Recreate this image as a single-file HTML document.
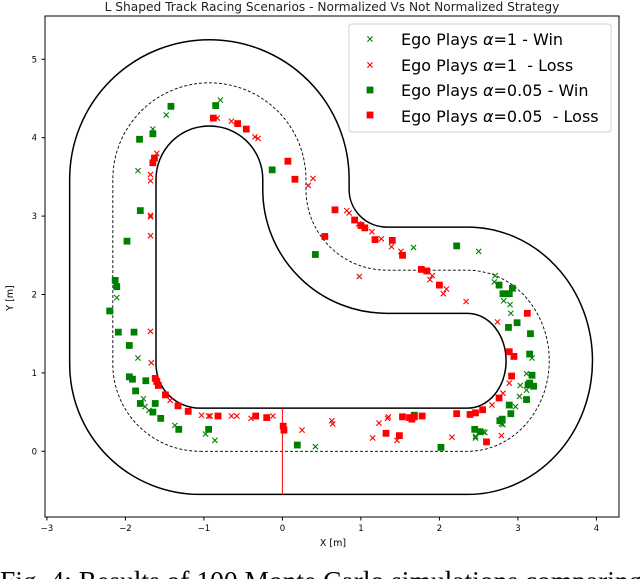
<!DOCTYPE html>
<html><head><meta charset="utf-8"><style>
html,body{margin:0;padding:0;background:#fff;width:640px;height:579px;overflow:hidden;position:relative}
svg{position:absolute;left:0;top:0}
#caption{position:absolute;left:0;top:567px;font-family:"Liberation Serif",serif;font-size:27.5px;line-height:27px;white-space:nowrap;color:#000}
</style></head><body>
<svg id="chart" width="640" height="579" viewBox="0 0 640 579" font-family="DejaVu Sans, Liberation Sans, sans-serif">
<text x="332" y="11" font-size="12.2" text-anchor="middle" fill="#222">L Shaped Track Racing Scenarios - Normalized Vs Not Normalized Strategy</text>
<rect x="45" y="16" width="574" height="501" fill="none" stroke="#000" stroke-width="1"/>
<g id="track"></g>
<g id="marks"></g>
<g id="axes"></g>
<text x="333" y="546" font-size="9.5" text-anchor="middle">X [m]</text>
<text x="13" y="298" font-size="9.5" text-anchor="middle" transform="rotate(-90 13 298)">Y [m]</text>
<g>
<rect x="349" y="24" width="262" height="108" rx="3" fill="#fff" fill-opacity="0.85" stroke="#d0d0d0"/>
<g id="legendMarks"></g>
<text x="401" y="45" font-size="16">Ego Plays <tspan font-style="italic">α</tspan>=1 - Win</text>
<text x="401" y="71" font-size="16" xml:space="preserve">Ego Plays <tspan font-style="italic">α</tspan>=1  - Loss</text>
<text x="401" y="96" font-size="16">Ego Plays <tspan font-style="italic">α</tspan>=0.05 - Win</text>
<text x="401" y="122" font-size="16" xml:space="preserve">Ego Plays <tspan font-style="italic">α</tspan>=0.05  - Loss</text>
</g>
</svg>
<div id="caption">Fig. 4: Results of 100 Monte Carlo simulations comparing</div>
<script>
const xTicks = [-3,-2,-1,0,1,2,3,4];
const yTicks = [0,1,2,3,4,5];
const greenX_x = [-0.79,-1.48,-1.65,-1.84,-2.11,-1.84,-1.77,-1.75,-1.70,-1.37,-0.98,-0.86,0.42,2.46,2.58,2.81,3.02,3.03,3.11,2.71,2.70,2.82,2.90,2.91,3.18,3.11,2.97,2.79,2.56,2.46,1.67,2.50];
const greenX_y = [4.48,4.29,4.11,3.58,1.96,1.19,0.67,0.57,0.52,0.33,0.22,0.14,0.06,0.17,0.24,0.34,0.70,0.84,0.78,2.24,2.16,1.92,1.87,1.76,1.19,0.99,0.57,0.35,0.25,0.19,2.60,2.55];
const redX_x = [-0.83,-0.65,-0.35,-0.31,-1.60,-1.68,-1.68,0.39,0.33,-1.68,-1.68,-1.68,-1.68,-1.67,-1.43,-1.03,-0.94,-0.92,-0.65,-0.58,-0.40,-0.12,0.25,0.63,0.64,1.23,1.34,1.35,1.15,1.46,2.16,2.79,2.67,2.81,2.89,0.82,0.85,0.97,1.14,1.26,1.39,1.51,0.98,1.88,1.91,2.09,2.05,2.34,2.74];
const redX_y = [4.25,4.21,4.01,3.99,3.80,3.53,3.45,3.48,3.39,3.01,2.99,2.75,1.53,1.13,0.65,0.46,0.45,0.45,0.45,0.45,0.42,0.45,0.27,0.39,0.35,0.36,0.42,0.44,0.17,0.14,0.18,0.20,0.59,0.74,0.87,3.07,3.04,2.90,2.80,2.71,2.61,2.55,2.23,2.19,2.24,2.07,2.01,1.91,1.65];
const greenS_x = [-1.42,-0.85,-1.82,-1.65,-0.13,-1.81,-1.98,0.42,-2.13,-2.11,-2.20,-2.09,-1.89,-1.95,-1.95,-1.91,-1.74,-1.87,-1.81,-1.62,-1.65,-1.55,-1.32,-0.94,0.19,1.68,2.02,2.45,2.52,2.77,2.89,2.91,3.11,3.15,2.76,2.81,2.89,2.93,2.99,2.88,3.16,3.15,3.18,3.13,3.20,2.80,2.22];
const greenS_y = [4.40,4.41,3.98,4.05,3.59,3.07,2.68,2.51,2.18,2.10,1.79,1.52,1.52,1.35,0.95,0.92,0.90,0.77,0.61,0.61,0.50,0.42,0.28,0.28,0.08,0.46,0.05,0.28,0.25,0.39,0.59,0.48,0.66,0.87,2.12,2.01,2.01,2.08,1.64,1.58,1.50,1.24,0.97,0.85,0.83,0.41,2.62];
const redS_x = [-0.88,-0.57,-0.46,-1.63,-1.65,0.07,0.16,0.54,-1.62,-1.60,-1.58,-1.49,-1.33,-1.20,-0.82,-0.34,-0.20,0.01,0.02,1.53,1.62,1.65,1.68,1.78,1.32,1.49,2.22,2.39,2.46,2.55,2.60,2.76,2.92,0.67,0.92,1.00,1.05,1.18,1.40,1.53,1.77,1.84,2.00,3.12,2.89,2.95];
const redS_y = [4.25,4.18,4.11,3.74,3.68,3.70,3.47,2.74,0.93,0.89,0.84,0.72,0.58,0.51,0.45,0.45,0.43,0.32,0.27,0.44,0.43,0.41,0.44,0.45,0.23,0.20,0.48,0.47,0.49,0.53,0.12,0.68,0.96,3.08,2.95,2.88,2.85,2.70,2.69,2.50,2.32,2.30,2.12,1.76,1.27,1.21];

const SX = 78.5, SY = 78.4;
function X(v){ return 282.4 + v*SX; }
function Y(v){ return 451.3 - v*SY; }
const NS = 'http://www.w3.org/2000/svg';

function trackPath(o){
  const rBRx = 1.04+o, rBRy = 1.155+o, rS = 1.03-o, rT = 1.23+o, rBL = 1.11+o;
  const arc = (rx, ry, sweep, x, y) => ` A ${rx*SX} ${ry*SY} 0 0 ${sweep} ${X(x)} ${Y(y)}`;
  let d = `M ${X(-1.05)} ${Y(-o)} L ${X(2.36)} ${Y(-o)}`;
  d += arc(rBRx, rBRy, 0, 2.36, 2.31+o);
  d += ` L ${X(1.33)} ${Y(2.31+o)}`;
  d += arc(rS, rS, 1, 1.33-rS, 3.34);
  d += ` L ${X(1.33-rS)} ${Y(3.47)}`;
  d += arc(rT, rT, 0, -0.93-rT, 3.47);
  d += ` L ${X(-0.93-rT)} ${Y(1.11)}`;
  d += arc(rBL, rBL, 0, -1.05, -o);
  return d + ' Z';
}
const track = document.getElementById('track');
[[0.55,'track-outer-edge',''],[0,'track-centerline','3,2'],[-0.55,'track-inner-edge','']].forEach(t=>{
  const p = document.createElementNS(NS,'path');
  p.setAttribute('d', trackPath(t[0]));
  p.setAttribute('fill','none');
  p.setAttribute('stroke','#000');
  p.setAttribute('stroke-width', t[2] ? '0.9' : '1.5');
  if (t[2]) p.setAttribute('stroke-dasharray', t[2]);
  
  
  track.appendChild(p);
});
const sl = document.createElementNS(NS,'line');
sl.setAttribute('x1', X(0)); sl.setAttribute('x2', X(0));
sl.setAttribute('y1', Y(0.55)); sl.setAttribute('y2', Y(-0.55));
sl.setAttribute('stroke','#ff0000'); sl.setAttribute('stroke-width','1');


track.appendChild(sl);

const marks = document.getElementById('marks');
function cross(g, cx, cy, color, s){
  const p = document.createElementNS(NS,'path');
  p.setAttribute('d', `M ${cx-s} ${cy-s} L ${cx+s} ${cy+s} M ${cx-s} ${cy+s} L ${cx+s} ${cy-s}`);
  p.setAttribute('stroke', color); p.setAttribute('stroke-width','1.1'); p.setAttribute('fill','none');
  g.appendChild(p);
  return p;
}
function square(g, cx, cy, color, s){
  const r = document.createElementNS(NS,'rect');
  r.setAttribute('x', cx-s); r.setAttribute('y', cy-s);
  r.setAttribute('width', 2*s); r.setAttribute('height', 2*s);
  r.setAttribute('fill', color);
  g.appendChild(r);
  return r;
}
function series(xs, ys, color, kind, name){
  const g = document.createElementNS(NS,'g');
  
  
  marks.appendChild(g);
  for (let i=0;i<xs.length;i++){
    const el = kind==='x' ? cross(g, X(xs[i]), Y(ys[i]), color, 2.6) : square(g, X(xs[i]), Y(ys[i]), color, 3.4);
    
    
  }
}
series(greenS_x, greenS_y, '#008000', 's', 'series-alpha005-win');
series(redS_x, redS_y, '#ff0000', 's', 'series-alpha005-loss');
series(greenX_x, greenX_y, '#008000', 'x', 'series-alpha1-win');
series(redX_x, redX_y, '#ff0000', 'x', 'series-alpha1-loss');

const lm = document.getElementById('legendMarks');
const l1 = cross(lm, 370, 39, '#008000', 2.6);


const l2 = cross(lm, 370, 65, '#ff0000', 2.6);


const l3 = square(lm, 370, 90, '#008000', 3.4);


const l4 = square(lm, 370, 115, '#ff0000', 3.4);



const axes = document.getElementById('axes');
xTicks.forEach(v=>{
  const t = document.createElementNS(NS,'line');
  t.setAttribute('x1', X(v)); t.setAttribute('x2', X(v));
  t.setAttribute('y1', 517); t.setAttribute('y2', 520.5);
  t.setAttribute('stroke','#000');
  
  
  axes.appendChild(t);
  const lb = document.createElementNS(NS,'text');
  lb.setAttribute('x', X(v)); lb.setAttribute('y', 531);
  lb.setAttribute('font-size','8.5'); lb.setAttribute('text-anchor','middle');
  lb.textContent = v < 0 ? '\u2212' + Math.abs(v) : String(v);
  
  
  axes.appendChild(lb);
});
yTicks.forEach(v=>{
  const t = document.createElementNS(NS,'line');
  t.setAttribute('x1', 41.5); t.setAttribute('x2', 45);
  t.setAttribute('y1', Y(v)); t.setAttribute('y2', Y(v));
  t.setAttribute('stroke','#000');
  
  
  axes.appendChild(t);
  const lb = document.createElementNS(NS,'text');
  lb.setAttribute('x', 37); lb.setAttribute('y', Y(v)+3);
  lb.setAttribute('font-size','8.5'); lb.setAttribute('text-anchor','end');
  lb.textContent = String(v);
  
  
  axes.appendChild(lb);
});
</script>
</body></html>
